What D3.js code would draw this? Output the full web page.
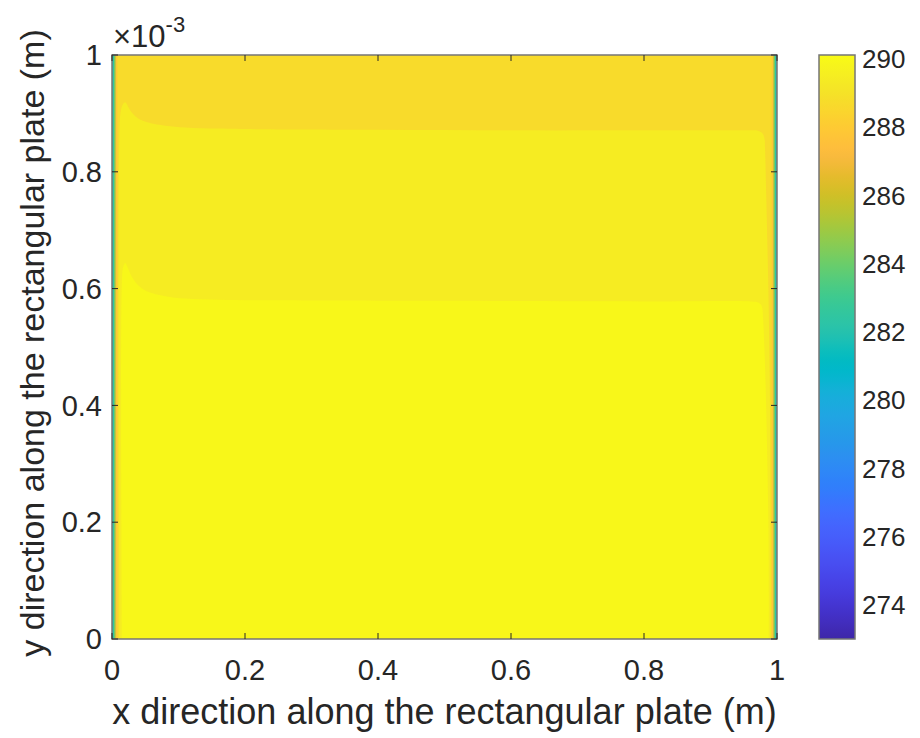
<!DOCTYPE html>
<html><head><meta charset="utf-8">
<script src="https://cdn.jsdelivr.net/npm/d3@7"></script>
<style>body{margin:0;background:#fff}svg{display:block}text{font-family:"Liberation Sans",Arial,Helvetica,sans-serif;fill:#262626}</style>
</head><body>
<script>
// ---------- data ----------
const xTicks = [0, 0.2, 0.4, 0.6, 0.8, 1];
const yTicks = [0, 0.2, 0.4, 0.6, 0.8, 1];          // in units of 1e-3 m
const cbTicks = [274, 276, 278, 280, 282, 284, 286, 288, 290];
const cbDomain = [273, 290.12];
// filled contour bands (temperature K)
const bandTemps = { top: 288.7, mid: 289.45, bottom: 289.95 };
// boundary between top band and middle band (x in m, y in 1e-3 m)
const midBandX = [0.011, 0.011, 0.013, 0.016, 0.020, 0.024, 0.030, 0.040, 0.056, 0.080, 0.110, 0.160, 0.220, 0.400, 0.600, 0.800, 0.950, 0.972, 0.978, 0.981, 0.982, 0.984, 0.987, 0.989, 0.990, 0.991];
const midBandY = [0, 0.860, 0.902, 0.915, 0.919, 0.912, 0.901, 0.891, 0.884, 0.879, 0.876, 0.874, 0.873, 0.872, 0.871, 0.871, 0.871, 0.870, 0.866, 0.858, 0.840, 0.750, 0.600, 0.450, 0.300, 0];
// boundary between middle band and bottom band
const brightX = [0.015, 0.015, 0.017, 0.020, 0.024, 0.030, 0.040, 0.055, 0.080, 0.110, 0.160, 0.250, 0.500, 0.800, 0.960, 0.972, 0.977, 0.979, 0.981, 0.983, 0.985, 0.987, 0.988];
const brightY = [0, 0.615, 0.638, 0.644, 0.635, 0.620, 0.605, 0.594, 0.587, 0.583, 0.581, 0.580, 0.579, 0.578, 0.578, 0.576, 0.570, 0.550, 0.500, 0.430, 0.330, 0.200, 0];
// cold boundary layer at x = 0 and x = 1 (distance from wall, temperature)
const edgeOffsets = [0.0080, 0.0055, 0.0035];
const edgeTemps = [287.8, 285.0, 282.3];
// parula colormap (64 entries)
const parula = [[0.2422,0.1504,0.6603],[0.2504,0.1650,0.7076],[0.2578,0.1818,0.7511],[0.2647,0.1978,0.7952],[0.2706,0.2147,0.8364],[0.2751,0.2342,0.8710],[0.2783,0.2559,0.8991],[0.2803,0.2782,0.9221],[0.2813,0.3006,0.9414],[0.2810,0.3228,0.9579],[0.2795,0.3447,0.9717],[0.2760,0.3667,0.9829],[0.2699,0.3892,0.9906],[0.2602,0.4123,0.9952],[0.2440,0.4358,0.9988],[0.2206,0.4603,0.9973],[0.1963,0.4847,0.9892],[0.1834,0.5074,0.9798],[0.1786,0.5289,0.9682],[0.1764,0.5499,0.9520],[0.1687,0.5703,0.9359],[0.1540,0.5902,0.9218],[0.1460,0.6091,0.9079],[0.1380,0.6276,0.8973],[0.1248,0.6459,0.8883],[0.1113,0.6635,0.8763],[0.0952,0.6798,0.8598],[0.0689,0.6948,0.8394],[0.0297,0.7082,0.8163],[0.0036,0.7203,0.7917],[0.0067,0.7312,0.7660],[0.0433,0.7411,0.7394],[0.0964,0.7500,0.7120],[0.1408,0.7584,0.6842],[0.1717,0.7670,0.6554],[0.1938,0.7758,0.6251],[0.2161,0.7843,0.5923],[0.2470,0.7918,0.5567],[0.2906,0.7973,0.5188],[0.3406,0.8008,0.4789],[0.3909,0.8029,0.4354],[0.4456,0.8024,0.3909],[0.5044,0.7993,0.3480],[0.5616,0.7942,0.3045],[0.6174,0.7876,0.2612],[0.6720,0.7793,0.2227],[0.7242,0.7698,0.1910],[0.7738,0.7598,0.1646],[0.8203,0.7498,0.1535],[0.8634,0.7406,0.1596],[0.9035,0.7330,0.1774],[0.9393,0.7288,0.2100],[0.9728,0.7298,0.2394],[0.9956,0.7434,0.2371],[0.9970,0.7659,0.2199],[0.9952,0.7893,0.2028],[0.9892,0.8136,0.1885],[0.9786,0.8386,0.1766],[0.9676,0.8639,0.1643],[0.9610,0.8890,0.1537],[0.9597,0.9135,0.1423],[0.9628,0.9373,0.1265],[0.9691,0.9606,0.1064],[0.9769,0.9839,0.0805]]
  .map(c => d3.rgb(c[0] * 255, c[1] * 255, c[2] * 255).formatHex());

// ---------- layout ----------
const W = 920, H = 738;
const L = 112, R = 777, T = 55, B = 639;
const cbL = 819, cbR = 855;

const svg = d3.select("body").append("svg").attr("width", W).attr("height", H);
const x = d3.scaleLinear().domain([0, 1]).range([L, R]);
const y = d3.scaleLinear().domain([0, 1]).range([B, T]);
const cbY = d3.scaleLinear().domain(cbDomain).range([B, T]);
const color = d3.scaleLinear()
  .domain(parula.map((_, i) => cbDomain[0] + (cbDomain[1] - cbDomain[0]) * i / (parula.length - 1)))
  .range(parula).interpolate(d3.interpolateRgb).clamp(true);

const defs = svg.append("defs");
defs.append("clipPath").attr("id", "plotclip").append("rect")
  .attr("x", L).attr("y", T).attr("width", R - L).attr("height", B - T);

const g = svg.append("g").attr("clip-path", "url(#plotclip)");
g.append("rect").attr("x", x(0)).attr("y", y(1)).attr("width", x(1) - x(0)).attr("height", y(0) - y(1))
  .attr("fill", color(bandTemps.top));
const line = d3.line().x(d => x(d[0])).y(d => y(d[1])).curve(d3.curveCatmullRom.alpha(0.5));
g.append("path").attr("d", line(d3.zip(midBandX, midBandY)) + "Z").attr("fill", color(bandTemps.mid));
g.append("path").attr("d", line(d3.zip(brightX, brightY)) + "Z").attr("fill", color(bandTemps.bottom));
edgeOffsets.forEach((o, i) => {
  g.append("rect").attr("x", x(0)).attr("y", y(1)).attr("width", x(o) - x(0)).attr("height", y(0) - y(1))
    .attr("fill", color(edgeTemps[i]));
  g.append("rect").attr("x", x(1 - o)).attr("y", y(1)).attr("width", x(1) - x(1 - o)).attr("height", y(0) - y(1))
    .attr("fill", color(edgeTemps[i]));
});

// axes box
svg.append("rect").attr("x", L).attr("y", T).attr("width", R - L).attr("height", B - T)
  .attr("fill", "none").attr("stroke", "#767676").attr("stroke-width", 1.5);

const tickLen = 6;
const tg = svg.append("g").attr("stroke", "#262626").attr("stroke-width", 1);
xTicks.forEach(v => {
  tg.append("line").attr("x1", x(v)).attr("x2", x(v)).attr("y1", B).attr("y2", B - tickLen);
  tg.append("line").attr("x1", x(v)).attr("x2", x(v)).attr("y1", T).attr("y2", T + tickLen);
});
yTicks.forEach(v => {
  tg.append("line").attr("x1", L).attr("x2", L + tickLen).attr("y1", y(v)).attr("y2", y(v));
  tg.append("line").attr("x1", R).attr("x2", R - tickLen).attr("y1", y(v)).attr("y2", y(v));
});

const fmt = d3.format("~g");
const tickFont = 29;
svg.append("g").selectAll("text").data(xTicks).join("text")
  .attr("x", d => x(d)).attr("y", 680).attr("text-anchor", "middle")
  .attr("font-size", tickFont).text(fmt);
svg.append("g").selectAll("text").data(yTicks).join("text")
  .attr("x", 102).attr("y", d => y(d)).attr("dy", "0.35em").attr("text-anchor", "end")
  .attr("font-size", tickFont).text(fmt);

// exponent
const ex = svg.append("text").attr("x", 113).attr("y", 47).attr("font-size", 31);
ex.append("tspan").text("\u00d710");
ex.append("tspan").attr("dy", -15).attr("font-size", 22).text("-3");

// axis labels
svg.append("text").attr("x", (L + R) / 2).attr("y", 724).attr("text-anchor", "middle")
  .attr("font-size", 36).text("x direction along the rectangular plate (m)");
svg.append("text").attr("transform", `translate(44,${(T + B) / 2 - 4}) rotate(-90)`).attr("text-anchor", "middle")
  .attr("font-size", 34).text("y direction along the rectangular plate (m)");

// colorbar
const grad = defs.append("linearGradient").attr("id", "cbgrad").attr("x1", 0).attr("y1", 1).attr("x2", 0).attr("y2", 0);
parula.forEach((c, i) => grad.append("stop").attr("offset", i / (parula.length - 1)).attr("stop-color", c));
svg.append("rect").attr("x", cbL).attr("y", cbY(cbDomain[1])).attr("width", cbR - cbL)
  .attr("height", cbY(cbDomain[0]) - cbY(cbDomain[1])).attr("fill", "url(#cbgrad)")
  .attr("stroke", "#767676").attr("stroke-width", 1.5);
cbTicks.forEach(v => {
  tg.append("line").attr("x1", cbR).attr("x2", cbR - 5).attr("y1", cbY(v)).attr("y2", cbY(v));
});
svg.append("g").selectAll("text").data(cbTicks).join("text")
  .attr("x", 862).attr("y", d => cbY(d)).attr("dy", "0.35em")
  .attr("font-size", 26).text(d => d);
</script>
</body></html>
